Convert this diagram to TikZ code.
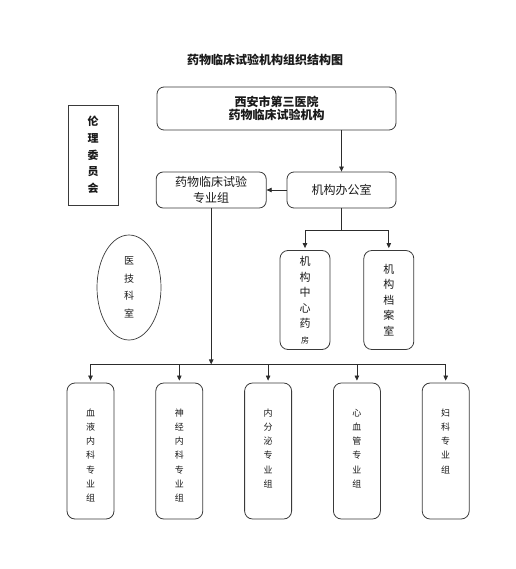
\documentclass[tikz,border=0pt]{standalone}
\usepackage{fontspec}
\setmainfont{Noto Sans CJK SC}
\usetikzlibrary{arrows.meta,positioning,shapes.geometric}
\definecolor{Ink}{HTML}{1A1A1A}
\definecolor{Frame}{HTML}{3A3A3A}
\definecolor{Wire}{HTML}{2C2C2C}
\tikzset{
  headbox/.style={draw=Frame,rounded corners=7pt,line width=0.8pt,minimum width=239pt,minimum height=43pt,align=center,font=\fontsize{12}{13.5}\selectfont\bfseries,text=Ink},
  ethicbox/.style={draw=Frame,line width=0.8pt,minimum width=50pt,minimum height=100pt,align=center,font=\fontsize{11}{16.7}\selectfont\bfseries,text=Ink},
  officebox/.style={draw=Frame,rounded corners=7pt,line width=0.8pt,minimum width=110pt,minimum height=36pt,align=center,font=\fontsize{12}{16}\selectfont,text=Ink,inner sep=0pt},
  unitbox/.style={draw=Frame,rounded corners=8pt,line width=0.8pt,minimum width=50pt,minimum height=99pt,align=center,font=\fontsize{11}{15.5}\selectfont,text=Ink,inner sep=0pt},
  teambox/.style={draw=Frame,rounded corners=8pt,line width=0.8pt,text width=47pt,inner xsep=0pt,inner ysep=0pt,align=center,text height=33pt,text depth=103pt,font=\fontsize{9}{14.3}\selectfont,text=Ink},
  techoval/.style={draw=Frame,ellipse,line width=0.7pt,minimum width=64pt,minimum height=105pt,inner sep=0pt,align=center,font=\fontsize{10}{17.5}\selectfont,text=Ink},
  line/.style={-{Triangle[length=5pt,width=4.5pt]},draw=Wire,line width=0.7pt},
  wire/.style={draw=Wire,line width=0.7pt}
}

\begin{document}
\begin{tikzpicture}[x=1pt,y=-1pt]
  \useasboundingbox (0,0) rectangle (515,569);
  \node[font=\fontsize{12}{14}\selectfont\bfseries,text=Ink] (title) at (265,60) {药物临床试验机构组织结构图};
  \node[headbox] (hospital) at (276.5,108.5) {西安市第三医院\\药物临床试验机构};
  \node[ethicbox] (ethics) at (93,155) {伦\\理\\委\\员\\会};
  \node[officebox,minimum width=109pt] (office) at (341.5,190) {机构办公室};
  \node[officebox,left=20pt of office] (spec) {药物临床试验\\专业组};
  \node[unitbox] (pharm) at (305,300) {机\\构\\中\\心\\药\\{\fontsize{8}{10}\selectfont 房}};
  \node[unitbox,right=33pt of pharm] (archive) {机\\构\\档\\案\\室};
  \node[techoval] (medtech) at (129,287.5) {医\\技\\科\\室};
  \node[teambox] (blood) at (90.5,451) {血\\液\\内\\科\\专\\业\\组};
  \node[teambox,right=41pt of blood] (neuro) {神\\经\\内\\科\\专\\业\\组};
  \node[teambox,right=41pt of neuro] (endo) {内\\分\\泌\\专\\业\\组};
  \node[teambox,right=41pt of endo] (cardio) {心\\血\\管\\专\\业\\组};
  \node[teambox,right=41pt of cardio] (gyn) {妇\\科\\专\\业\\组};

  \draw[line] (office.north |- hospital.south) -- (office.north);
  \draw[line] (office.west) -- (spec.east);
  \draw[wire] (office.south) -- ++(0,22) coordinate (fork1);
  \draw[line,shorten >=2pt] (fork1) -| (pharm.north);
  \draw[line,shorten >=2pt] (fork1) -| (archive.north);
  \draw[line] (spec.south) -- ++(0,156) coordinate (fork2);
  \draw[wire] (fork2 -| blood.north) -- (fork2 -| gyn.north);
  \foreach \team in {blood,neuro,endo,cardio,gyn}
    \draw[line,shorten >=2pt] (fork2 -| \team.north) -- (\team.north);
\end{tikzpicture}
\end{document}
